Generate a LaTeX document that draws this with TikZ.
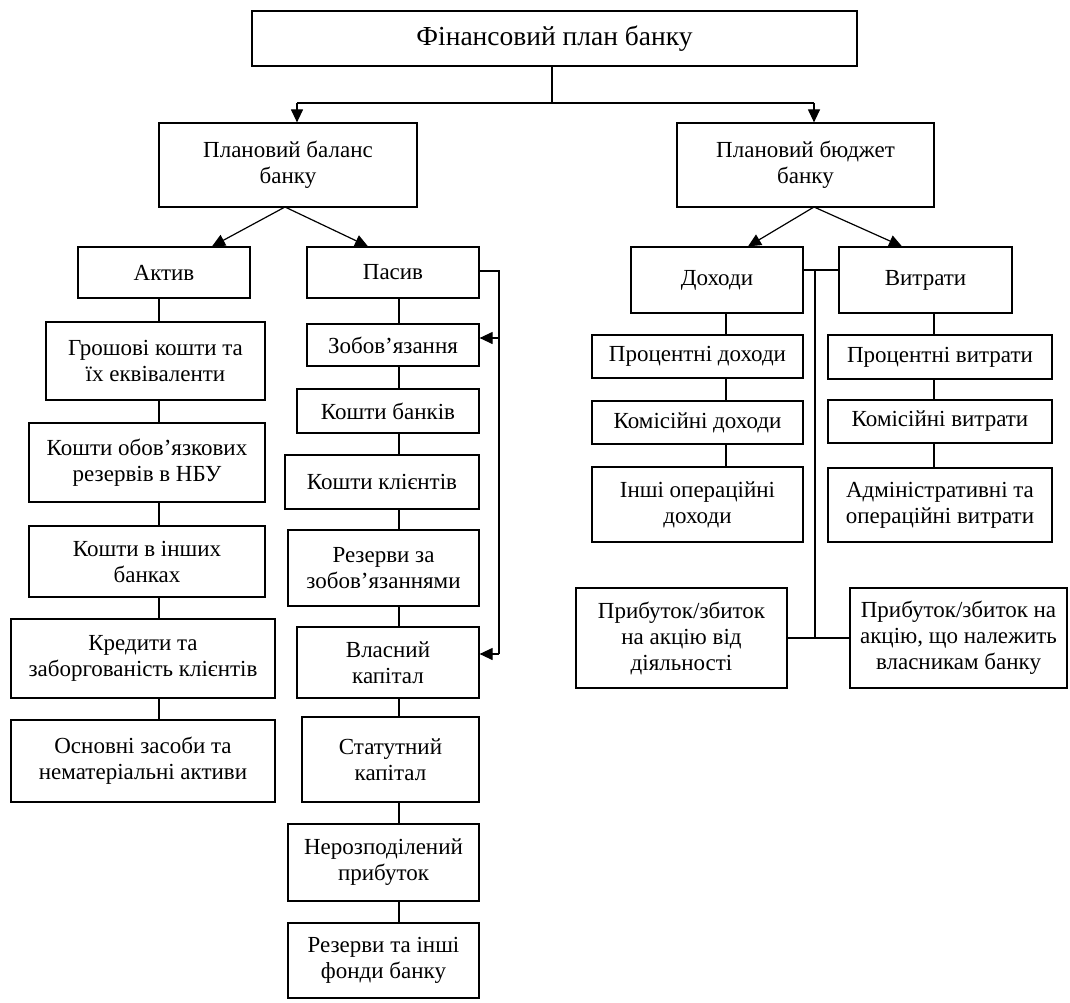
\documentclass[tikz,border=0pt]{standalone}
\usepackage{fontspec}
\setmainfont{Liberation Serif}
\usetikzlibrary{arrows.meta}
\begin{document}
\begin{tikzpicture}[x=1pt,y=-1pt,
  box/.style={draw, line width=1.2pt, inner sep=0pt, align=center,
    font=\fontsize{23}{26}\selectfont},
  ln/.style={line width=1.1pt},
  arr/.style={line width=1.2pt, -{Triangle[length=13pt,width=12pt]}}]
\useasboundingbox (0,0) rectangle (1070,1003);
% helper
\newcommand{\bx}[6]{\node[box, minimum width=#4, minimum height=#5] (#1) at (#2,#3) {#6};}
\bx{top}{554.5}{38.5}{605}{55}{\fontsize{27.5}{30}\selectfont Фінансовий план банку}
\bx{bal}{288}{165}{258}{84}{Плановий баланс\\банку}
\bx{bud}{805.5}{165}{257}{84}{Плановий бюджет\\банку}
\bx{aktiv}{164}{272.5}{172}{51}{Актив}
\bx{pasyv}{393}{272.5}{172}{51}{Пасив}
\bx{g1}{155.5}{361}{219}{78}{Грошові кошти та\\їх еквіваленти}
\bx{g2}{147}{462.5}{236}{79}{Кошти обов’язкових\\резервів в НБУ}
\bx{g3}{147}{561.5}{236}{71}{Кошти в інших\\банках}
\bx{g4}{143}{658.5}{264}{79}{Кредити та\\заборгованість клієнтів}
\bx{g5}{143}{761}{264}{82}{Основні засоби та\\нематеріальні активи}
\bx{p1}{393}{345}{172}{42}{Зобов’язання}
\bx{p2}{388}{411}{182}{44}{Кошти банків}
\bx{p3}{382}{482}{194}{54}{Кошти клієнтів}
\bx{p4}{383.5}{568}{191}{76}{Резерви за\\зобов’язаннями}
\bx{p5}{388}{662.5}{182}{71}{Власний\\капітал}
\bx{p6}{390.5}{759.5}{177}{85}{Статутний\\капітал}
\bx{p7}{383.5}{862.5}{191}{77}{Нерозподілений\\прибуток}
\bx{p8}{383.5}{960.5}{191}{75}{Резерви та інші\\фонди банку}
\bx{doh}{717}{280}{172}{66}{Доходи}
\bx{vyt}{925.5}{280}{173}{66}{Витрати}
\bx{d1}{697.5}{356.5}{211}{43}{Процентні доходи}
\bx{d2}{697.5}{422.5}{211}{43}{Комісійні доходи}
\bx{d3}{697.5}{504.5}{211}{75}{Інші операційні\\доходи}
\bx{v1}{940}{357}{224}{44}{Процентні витрати}
\bx{v2}{940}{421.5}{224}{43}{Комісійні витрати}
\bx{v3}{940}{505}{224}{74}{Адміністративні та\\операційні витрати}
\bx{e1}{681.5}{638}{211}{100}{Прибуток/збиток\\на акцію від\\діяльності}
\bx{e2}{958.5}{638}{217}{100}{Прибуток/збиток на\\акцію, що належить\\власникам банку}
% guide coordinates
\coordinate (xtop) at (552,103);
\coordinate (xbal) at (297,103);
\coordinate (xbud) at (814,103);
\coordinate (xa) at (159,0);
\coordinate (xp) at (399,0);
\coordinate (xd) at (726,0);
\coordinate (xv) at (934,0);
\coordinate (br1) at (499,271);
\coordinate (br2) at (499,338);
\coordinate (br3) at (499,654);
\coordinate (mid1) at (815,270);
\coordinate (mid2) at (815,638);
\coordinate (balb) at (285,207);
\coordinate (budb) at (814,207);
% top connectors
\draw[ln] (top.south -| xtop) -- (xtop);
\draw[ln] (xtop) -- (xbal);
\draw[ln] (xtop) -- (xbud);
\draw[arr] (xbal) -- (bal.north -| xbal);
\draw[arr] (xbud) -- (bud.north -| xbud);
\draw[arr] (balb) -- (aktiv.north -| 212,0);
\draw[arr] (balb) -- (pasyv.north -| 368,0);
\draw[arr] (budb) -- (doh.north -| 748,0);
\draw[arr] (budb) -- (vyt.north -| 902,0);
% Aktiv column
\foreach \a/\b in {aktiv/g1,g1/g2,g2/g3,g3/g4,g4/g5}
  \draw[ln] (\a.south -| xa) -- (\b.north -| xa);
% Pasyv column
\foreach \a/\b in {pasyv/p1,p1/p2,p2/p3,p3/p4,p4/p5,p5/p6,p6/p7,p7/p8}
  \draw[ln] (\a.south -| xp) -- (\b.north -| xp);
% bracket
\draw[ln] (pasyv.east |- br1) -- (br1) -- (br3);
\draw[arr] (br2) -- (p1.east |- br2);
\draw[arr] (br3) -- (p5.east |- br3);
% Dokhody / Vytraty columns
\foreach \a/\b in {doh/d1,d1/d2,d2/d3}
  \draw[ln] (\a.south -| xd) -- (\b.north -| xd);
\foreach \a/\b in {vyt/v1,v1/v2,v2/v3}
  \draw[ln] (\a.south -| xv) -- (\b.north -| xv);
% middle links
\draw[ln] (doh.east |- mid1) -- (vyt.west |- mid1);
\draw[ln] (mid1) -- (mid2);
\draw[ln] (e1.east |- mid2) -- (e2.west |- mid2);
\end{tikzpicture}
\end{document}
